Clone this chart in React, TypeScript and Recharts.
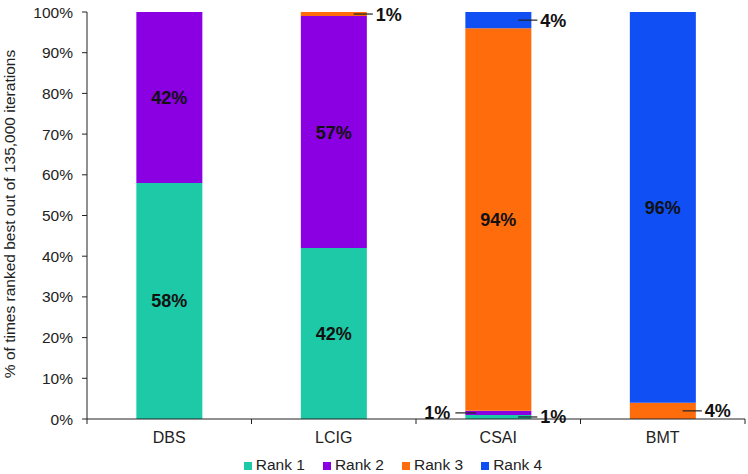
import { BarChart, Bar, XAxis, YAxis, Legend, LabelList } from "recharts";

const categories = ["DBS", "LCIG", "CSAI", "BMT"];
const rank1 = [58, 42, 1, 0];
const rank2 = [42, 57, 1, 0];
const rank3 = [0, 1, 94, 4];
const rank4 = [0, 0, 4, 96];
const yTicks = [0, 10, 20, 30, 40, 50, 60, 70, 80, 90, 100];

const series = [
  { key: "r1", name: "Rank 1", color: "#1dc9a6" },
  { key: "r2", name: "Rank 2", color: "#8a00e2" },
  { key: "r3", name: "Rank 3", color: "#ff6c0c" },
  { key: "r4", name: "Rank 4", color: "#0f4ff4" },
];

// small segments get a leader line instead of a centred label
const callouts: Record<string, "left" | "right"> = {
  "LCIG:r3": "right",
  "CSAI:r4": "right",
  "CSAI:r2": "left",
  "CSAI:r1": "right",
  "BMT:r3": "right",
};

const data = categories.map((name, i) => ({
  name,
  r1: rank1[i],
  r2: rank2[i],
  r3: rank3[i],
  r4: rank4[i],
}));

const FONT = '"Liberation Sans", Arial, sans-serif';
const PLOT_LEFT = 87;
const BAND = 658 / 4;

const makeLabel = (key: string) => (props: any) => {
  const x = Number(props.x);
  const y = Number(props.y);
  const w = Number(props.width);
  const h = Number(props.height);
  const value = props.value;
  if (!value) return null;
  // LabelList index skips empty segments, so find the category from the bar position
  const cat = categories[Math.floor((x + w / 2 - PLOT_LEFT) / BAND)];
  const side = callouts[`${cat}:${key}`];
  const cy = y + h / 2;
  const style = { fontFamily: FONT, fontSize: 18, fontWeight: 700, fill: "#111" };
  if (side === "right") {
    return (
      <g>
        <line x1={x + w * 0.8} y1={cy} x2={x + w + 6} y2={cy} stroke="#222" strokeWidth={1.2} />
        <text x={x + w + 9} y={cy + 6.5} style={style}>{`${value}%`}</text>
      </g>
    );
  }
  if (side === "left") {
    return (
      <g>
        <line x1={x - 10} y1={cy} x2={x + 11} y2={cy} stroke="#222" strokeWidth={1.2} />
        <text x={x - 15} y={cy + 6.5} textAnchor="end" style={style}>{`${value}%`}</text>
      </g>
    );
  }
  return (
    <text x={x + w / 2} y={cy + 6.5} textAnchor="middle" style={style}>{`${value}%`}</text>
  );
};

const XTick = (props: any) => {
  const { x, y, payload, index } = props;
  const axisY = y - 5;
  return (
    <g>
      <line x1={x - BAND / 2} y1={axisY} x2={x - BAND / 2} y2={axisY + 5} stroke="#222" />
      {index === categories.length - 1 && (
        <line x1={x + BAND / 2} y1={axisY} x2={x + BAND / 2} y2={axisY + 5} stroke="#222" />
      )}
      <text x={x} y={y} dy={19} textAnchor="middle" style={{ fontFamily: FONT, fontSize: 16, fill: "#222" }}>
        {payload.value}
      </text>
    </g>
  );
};

const YLabel = () => (
  <text
    transform="translate(15,214) rotate(-90)"
    textAnchor="middle"
    style={{ fontFamily: FONT, fontSize: 15.5, fill: "#222" }}
  >
    % of times ranked best out of 135,000 iterations
  </text>
);

export default function App() {
  return (
    <div style={{ position: "absolute", left: 0, top: 0, fontFamily: FONT, background: "#fff" }}>
      <BarChart
        width={748}
        height={474}
        data={data}
        margin={{ top: 12, right: 3, left: 0, bottom: 0 }}
        barCategoryGap="30%"
      >
        <XAxis
          dataKey="name"
          height={33}
          tickLine={false}
          tickSize={5}
          tickMargin={0}
          tick={<XTick />}
          axisLine={{ stroke: "#222" }}
        />
        <YAxis
          width={87}
          domain={[0, 100]}
          ticks={yTicks}
          tickFormatter={(v) => `${v}%`}
          tickSize={5}
          tickMargin={9}
          interval={0}
          axisLine={{ stroke: "#222" }}
          tickLine={{ stroke: "#222" }}
          tick={{ fontFamily: FONT, fontSize: 15.5, fill: "#222" }}
          label={<YLabel />}
        />
        <Legend
          height={22}
          iconType="square"
          iconSize={8}
          wrapperStyle={{ top: 456, left: 226, width: 352, fontFamily: FONT, fontSize: 15.5 }}
          formatter={(value) => (
            <span style={{ color: "#222", marginRight: 8 }}>{value}</span>
          )}
        />
        {series.map((s) => (
          <Bar
            key={s.key}
            dataKey={s.key}
            name={s.name}
            stackId="a"
            fill={s.color}
            isAnimationActive={false}
          >
            <LabelList dataKey={s.key} content={makeLabel(s.key)} />
          </Bar>
        ))}
      </BarChart>
    </div>
  );
}
